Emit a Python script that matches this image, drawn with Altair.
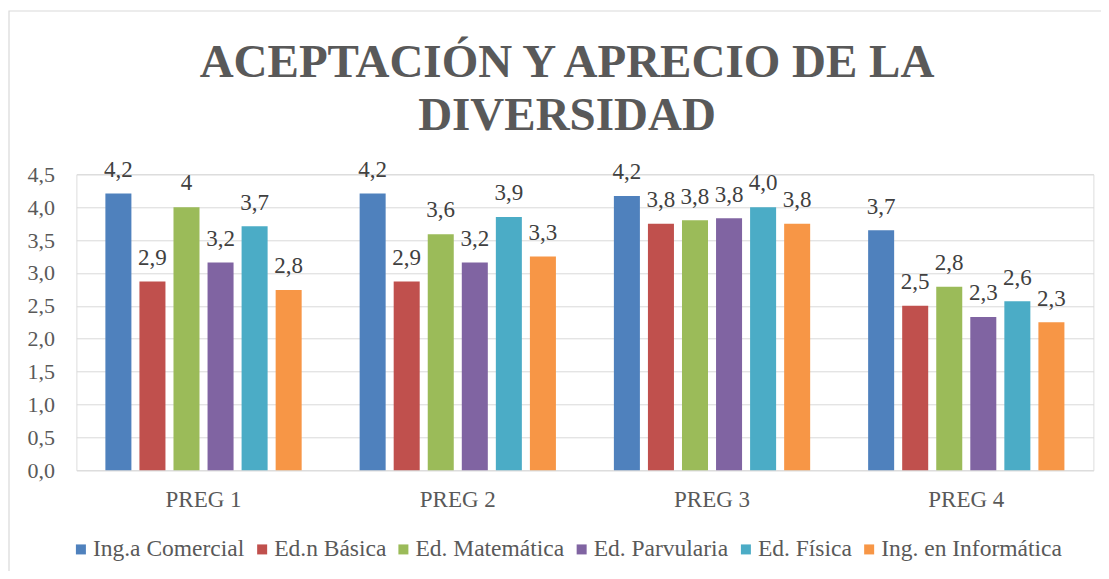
import altair as alt
import pandas as pd

preguntas = ["PREG 1", "PREG 2", "PREG 3", "PREG 4"]
series = ["Ing.a Comercial", "Ed.n Básica", "Ed. Matemática", "Ed. Parvularia", "Ed. Física", "Ing. en Informática"]
colores = ["#4F81BD", "#C0504D", "#9BBB59", "#8064A2", "#4BACC6", "#F79646"]

ing_comercial = [4.21, 4.21, 4.17, 3.65]
ed_basica = [2.87, 2.87, 3.75, 2.50]
ed_matematica = [4.00, 3.59, 3.80, 2.79]
ed_parvularia = [3.16, 3.16, 3.83, 2.33]
ed_fisica = [3.71, 3.85, 4.00, 2.57]
ing_informatica = [2.74, 3.25, 3.75, 2.25]

et_ing_comercial = ["4,2", "4,2", "4,2", "3,7"]
et_ed_basica = ["2,9", "2,9", "3,8", "2,5"]
et_ed_matematica = ["4", "3,6", "3,8", "2,8"]
et_ed_parvularia = ["3,2", "3,2", "3,8", "2,3"]
et_ed_fisica = ["3,7", "3,9", "4,0", "2,6"]
et_ing_informatica = ["2,8", "3,3", "3,8", "2,3"]

titulo = ["ACEPTACIÓN Y APRECIO DE LA", "DIVERSIDAD"]
y_ticks = [0, 0.5, 1.0, 1.5, 2.0, 2.5, 3.0, 3.5, 4.0, 4.5]

valores = [ing_comercial, ed_basica, ed_matematica, ed_parvularia, ed_fisica, ing_informatica]
etiquetas = [et_ing_comercial, et_ed_basica, et_ed_matematica, et_ed_parvularia, et_ed_fisica, et_ing_informatica]

rows = []
for s, vals, ets in zip(series, valores, etiquetas):
    for p, v, e in zip(preguntas, vals, ets):
        rows.append({"pregunta": p, "serie": s, "valor": v, "etiqueta": e})
df = pd.DataFrame(rows)

FONT = "'Liberation Serif', 'Times New Roman', Times, serif"
GRAY = "#595959"

x_enc = alt.X("pregunta:N", sort=preguntas,
              scale=alt.Scale(paddingInner=0.228, paddingOuter=0.114),
              axis=alt.Axis(title=None, labelAngle=0, domain=False, ticks=False, tickSize=0,
                            labelFont=FONT, labelFontSize=23, labelColor=GRAY,
                            labelPadding=18, grid=False))
xo_enc = alt.XOffset("serie:N", sort=series,
                     scale=alt.Scale(paddingInner=0.236, paddingOuter=0))
y_enc = alt.Y("valor:Q", scale=alt.Scale(domain=[0, 4.5], nice=False, zero=True),
              axis=alt.Axis(title=None, values=y_ticks, domain=False, ticks=False, tickSize=0,
                            labelExpr="replace(format(datum.value, '.1f'), '.', ',')",
                            labelFont=FONT, labelFontSize=22, labelColor=GRAY,
                            labelPadding=22, grid=True, gridColor="#D9D9D9", gridWidth=1))

base = alt.Chart(df)

bars = base.mark_bar().encode(
    x=x_enc,
    xOffset=xo_enc,
    y=y_enc,
    color=alt.Color("serie:N", sort=series,
                    scale=alt.Scale(domain=series, range=colores),
                    legend=alt.Legend(title=None, orient="none", direction="horizontal",
                                      legendX=-7.25, legendY=363, padding=0,
                                      symbolType="square", symbolSize=100, symbolStrokeWidth=0,
                                      labelFont=FONT, labelFontSize=23.5, labelColor=GRAY,
                                      labelOffset=0.25, columnPadding=5.25, labelLimit=400,
                                      columns=6)),
)

labels = base.mark_text(baseline="alphabetic", dy=-16.7, font=FONT, fontSize=23,
                        color="#404040").encode(
    x=x_enc,
    xOffset=xo_enc,
    y=y_enc,
    text="etiqueta:N",
)

borde = alt.Chart(pd.DataFrame({"k": [0]})).mark_rect(
    fillOpacity=0, stroke="#D9D9D9", strokeWidth=1.2
).encode(x=alt.value(-67.4), x2=alt.value(1100), y=alt.value(-163.3), y2=alt.value(500))

t1 = alt.Chart(pd.DataFrame({"t": [titulo[0]]})).mark_text(
    font=FONT, fontSize=47, fontWeight="bold", color=GRAY, align="center", baseline="alphabetic"
).encode(x=alt.value(490.6), y=alt.value(-97.6), text="t:N")

t2 = alt.Chart(pd.DataFrame({"t": [titulo[1]]})).mark_text(
    font=FONT, fontSize=47, fontWeight="bold", color=GRAY, align="center", baseline="alphabetic"
).encode(x=alt.value(490.6), y=alt.value(-44.3), text="t:N")

chart = alt.layer(borde, bars, labels, t1, t2).properties(
    width=1017, height=296,
    autosize=alt.AutoSizeParams(type="none"),
    padding={"left": 68.4, "top": 166.3, "right": 7.6, "bottom": 100.7},
).configure_view(strokeWidth=0).configure(background="white")

chart.save("out.html", embed_options={"renderer": "svg", "actions": False})
